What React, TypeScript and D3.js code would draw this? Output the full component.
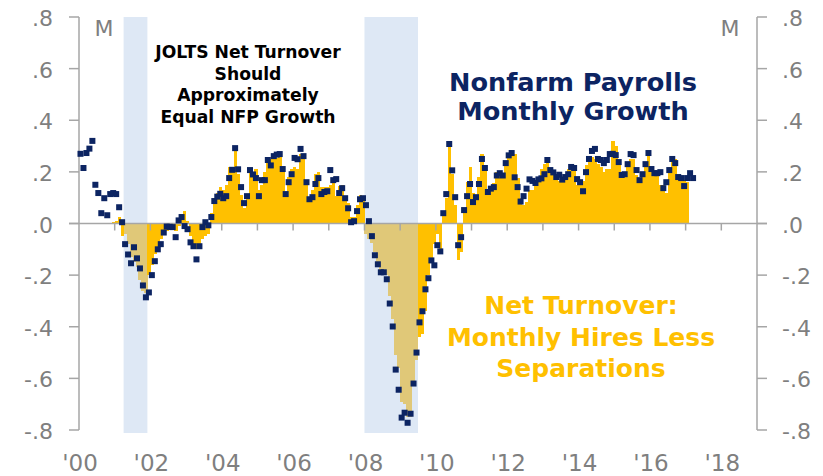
import React, { useEffect, useRef } from 'react';
import * as d3 from 'd3';

// Monthly NFP change (millions), Jan 2000 -> Mar 2017
const nfpGrowth = [
  0.27, 0.215, 0.273, 0.29, 0.32, 0.15, 0.118, 0.04, 0.098, 0.032, 0.114, 0.118,
  0.114, 0.063, 0.005, -0.08, -0.12, -0.154, -0.092, -0.135, -0.174, -0.24, -0.286, -0.267,
  -0.2, -0.146, -0.1, -0.08, -0.035, -0.012, -0.013, -0.014, -0.053, 0.012, 0.025, -0.01,
  -0.022, -0.073, -0.088, -0.139, -0.088, -0.014, 0.005, -0.007, 0.025, 0.087, 0.104, 0.115,
  0.098, 0.106, 0.176, 0.208, 0.292, 0.21, 0.141, 0.079, 0.106, 0.207, 0.19, 0.176,
  0.106, 0.168, 0.168, 0.246, 0.225, 0.261, 0.267, 0.269, 0.211, 0.114, 0.16, 0.191,
  0.254, 0.249, 0.289, 0.261, 0.16, 0.094, 0.102, 0.153, 0.176, 0.114, 0.122, 0.125,
  0.207, 0.168, 0.172, 0.118, 0.137, 0.098, 0.059, 0.005, 0.009, 0.048, 0.094, 0.098,
  0.071, 0.009, -0.049, -0.123, -0.158, -0.189, -0.189, -0.216, -0.31, -0.399, -0.566, -0.644,
  -0.752, -0.733, -0.772, -0.737, -0.62, -0.5, -0.383, -0.34, -0.255, -0.212, -0.143, -0.162,
  -0.084, -0.108, 0.04, 0.114, 0.308, 0.206, 0.102, -0.084, -0.053, 0.052, 0.106, 0.153,
  0.083, 0.102, 0.153, 0.25, 0.215, 0.122, 0.135, 0.141, 0.186, 0.195, 0.186, 0.234,
  0.264, 0.273, 0.179, 0.141, 0.085, 0.106, 0.135, 0.171, 0.165, 0.157, 0.171, 0.175,
  0.191, 0.246, 0.207, 0.198, 0.18, 0.189, 0.17, 0.18, 0.191, 0.219, 0.215, 0.172,
  0.16, 0.125, 0.199, 0.25, 0.281, 0.289, 0.25, 0.246, 0.234, 0.246, 0.269, 0.27,
  0.265, 0.238, 0.188, 0.191, 0.23, 0.269, 0.265, 0.207, 0.168, 0.191, 0.23, 0.273,
  0.211, 0.195, 0.195, 0.199, 0.137, 0.16, 0.207, 0.25, 0.234, 0.18, 0.176, 0.145,
  0.176, 0.195, 0.176,
];

// JOLTS hires less separations (millions), Dec 2000 -> Jan 2017
const netTurnover = [
  0.005,
  0.01, 0.027, -0.05, -0.04, -0.08, -0.13, -0.15, -0.17, -0.22, -0.26, -0.27, -0.2,
  -0.16, -0.12, -0.09, -0.06, -0.04, -0.03, -0.025, -0.02, -0.03, -0.01, 0.035, 0.05,
  0.01, -0.05, -0.09, -0.1, -0.1, -0.06, -0.05, -0.04, 0.04, 0.1, 0.12, 0.14,
  0.13, 0.15, 0.22, 0.22, 0.28, 0.19, 0.11, 0.06, 0.1, 0.21, 0.19, 0.21,
  0.13, 0.15, 0.2, 0.24, 0.25, 0.25, 0.255, 0.26, 0.2, 0.12, 0.18, 0.21,
  0.22, 0.21, 0.27, 0.27, 0.15, 0.1, 0.13, 0.19, 0.2, 0.14, 0.14, 0.14,
  0.15, 0.16, 0.105, 0.145, 0.15, 0.1, 0.08, 0.025, 0.025, 0.07, 0.11, 0.1,
  -0.04, -0.06, -0.075, -0.11, -0.15, -0.18, -0.19, -0.2, -0.28, -0.37, -0.51, -0.56,
  -0.69, -0.7, -0.75, -0.75, -0.62, -0.53, -0.44, -0.43, -0.34, -0.2, -0.14, -0.08,
  -0.04, -0.1, 0.04, 0.1, 0.3, 0.19, 0.07, -0.14, -0.11, 0.04, 0.16, 0.22,
  0.12, 0.11, 0.18, 0.27, 0.225, 0.12, 0.145, 0.155, 0.2, 0.2, 0.195, 0.23,
  0.26, 0.27, 0.27, 0.175, 0.1, 0.07, 0.083, 0.128, 0.13, 0.165, 0.17, 0.21,
  0.23, 0.235, 0.21, 0.186, 0.17, 0.165, 0.17, 0.168, 0.21, 0.22, 0.22, 0.148,
  0.15, 0.165, 0.225, 0.238, 0.258, 0.25, 0.23, 0.22, 0.2, 0.21, 0.21, 0.318,
  0.3, 0.225, 0.19, 0.19, 0.24, 0.25, 0.25, 0.186, 0.175, 0.18, 0.22, 0.283,
  0.21, 0.2, 0.19, 0.148, 0.148, 0.12, 0.22, 0.258, 0.25, 0.186, 0.175, 0.17,
  0.16,
];

const NFP_START_MONTH = 0;       // Jan 2000
const TURNOVER_START_MONTH = 11; // Dec 2000

// recession shading (decimal years)
const recessions = [
  [2001.25, 2001 + 11 / 12],
  [2008, 2009.5],
];

const yTicks = [0.8, 0.6, 0.4, 0.2, 0, -0.2, -0.4, -0.6, -0.8];
const yTickLabels = ['.8', '.6', '.4', '.2', '.0', '-.2', '-.4', '-.6', '-.8'];
const xLabelYears = [2000, 2002, 2004, 2006, 2008, 2010, 2012, 2014, 2016, 2018];
const xLabels = ["'00", "'02", "'04", "'06", "'08", "'10", "'12", "'14", "'16", "'18"];

const W = 823;
const H = 476;
const FONT = 'Verdana, "DejaVu Sans", sans-serif';
const GOLD = '#FFC000';
const TAN = '#E0C878';
const NAVY = '#0C2462';
const SHADE = '#DEE8F5';
const AXIS = '#A6A6A6';
const LABEL = '#7F7F7F';

export default function App() {
  const svgRef = useRef<SVGSVGElement>(null);

  useEffect(() => {
    const svg = d3.select(svgRef.current);
    svg.selectAll('*').remove();

    const x = d3.scaleLinear().domain([2000, 2019]).range([79, 757]);
    const y = d3.scaleLinear().domain([-0.8, 0.8]).range([430, 17]);
    const monthToYear = (m: number) => 2000 + m / 12;
    const inRecession = (t: number) => recessions.some(([a, b]) => t >= a - 1e-6 && t < b - 1e-6);

    // recession shading
    svg.append('g')
      .selectAll('rect')
      .data(recessions)
      .join('rect')
      .attr('x', d => x(d[0]))
      .attr('width', d => x(d[1]) - x(d[0]))
      .attr('y', y(0.8))
      .attr('height', y(-0.8) - y(0.8) + 3)
      .attr('fill', SHADE);

    // net turnover bars
    const bars = netTurnover.map((v, i) => ({ m: TURNOVER_START_MONTH + i, v }));
    svg.append('g')
      .selectAll('rect')
      .data(bars)
      .join('rect')
      .attr('x', d => x(monthToYear(d.m)))
      .attr('width', d => x(monthToYear(d.m + 1)) - x(monthToYear(d.m)) + 0.4)
      .attr('y', d => y(Math.max(0, d.v)))
      .attr('height', d => Math.abs(y(d.v) - y(0)))
      .attr('fill', d => inRecession(monthToYear(d.m)) ? TAN : GOLD)
      .attr('shape-rendering', 'crispEdges');

    // zero line
    svg.append('line')
      .attr('x1', 69).attr('x2', 767)
      .attr('y1', y(0)).attr('y2', y(0))
      .attr('stroke', AXIS).attr('stroke-width', 1.5);

    // year ticks on zero line
    svg.append('g')
      .selectAll('line')
      .data(d3.range(2001, 2019))
      .join('line')
      .attr('x1', d => x(d)).attr('x2', d => x(d))
      .attr('y1', y(0)).attr('y2', y(0) + 7)
      .attr('stroke', AXIS).attr('stroke-width', 1.5);

    // left and right axes
    [{ x0: x(2000), dir: -1 }, { x0: x(2019), dir: 1 }].forEach(({ x0, dir }) => {
      svg.append('line')
        .attr('x1', x0).attr('x2', x0)
        .attr('y1', y(0.8)).attr('y2', y(-0.8))
        .attr('stroke', AXIS).attr('stroke-width', 1.5);
      svg.append('g')
        .selectAll('line')
        .data(yTicks)
        .join('line')
        .attr('x1', x0).attr('x2', x0 + dir * 10)
        .attr('y1', d => y(d)).attr('y2', d => y(d))
        .attr('stroke', AXIS).attr('stroke-width', 1.5);
      svg.append('g')
        .selectAll('text')
        .data(yTicks)
        .join('text')
        .attr('x', dir < 0 ? 53 : 782)
        .attr('y', d => y(d) + 9)
        .attr('text-anchor', dir < 0 ? 'end' : 'start')
        .style('font-family', FONT)
        .style('font-size', '22px')
        .style('fill', LABEL)
        .text((d, i) => yTickLabels[i]);
    });

    // x labels
    svg.append('g')
      .selectAll('text')
      .data(xLabelYears)
      .join('text')
      .attr('x', d => x(d) + 1)
      .attr('y', 471)
      .attr('text-anchor', 'middle')
      .style('font-family', FONT)
      .style('font-size', '23px')
      .style('fill', LABEL)
      .text((d, i) => xLabels[i]);

    // unit labels
    [[104, 'M'], [730, 'M']].forEach(([px, t]) => {
      svg.append('text')
        .attr('x', px as number).attr('y', 36)
        .attr('text-anchor', 'middle')
        .style('font-family', FONT)
        .style('font-size', '22px')
        .style('fill', LABEL)
        .text(t as string);
    });

    // NFP dots
    const dots = nfpGrowth.map((v, i) => ({ m: NFP_START_MONTH + i, v }));
    const S = 6;
    svg.append('g')
      .selectAll('rect')
      .data(dots)
      .join('rect')
      .attr('x', d => x(monthToYear(d.m + 0.5)) - S / 2)
      .attr('y', d => y(d.v) - S / 2)
      .attr('width', S).attr('height', S)
      .attr('fill', NAVY);

    // annotations
    const note = (lines: string[], cx: number, y0: number, dy: number, size: number, color: string) => {
      const t = svg.append('text')
        .attr('text-anchor', 'middle')
        .style('font-family', FONT)
        .style('font-weight', 700)
        .style('font-size', `${size}px`)
        .style('fill', color);
      lines.forEach((l, i) => {
        t.append('tspan').attr('x', cx).attr('y', y0 + i * dy).text(l);
      });
    };
    note(['JOLTS Net Turnover', 'Should', 'Approximately', 'Equal NFP Growth'], 248, 58, 21.5, 17.2, '#000000');
    note(['Nonfarm Payrolls', 'Monthly Growth'], 573, 91, 29, 25.6, NAVY);
    note(['Net Turnover:', 'Monthly Hires Less', 'Separations'], 581, 314, 31.5, 25, GOLD);
  }, []);

  return (
    <svg
      ref={svgRef}
      width={W}
      height={H}
      style={{ position: 'absolute', left: 0, top: 0, background: '#fff' }}
    />
  );
}
